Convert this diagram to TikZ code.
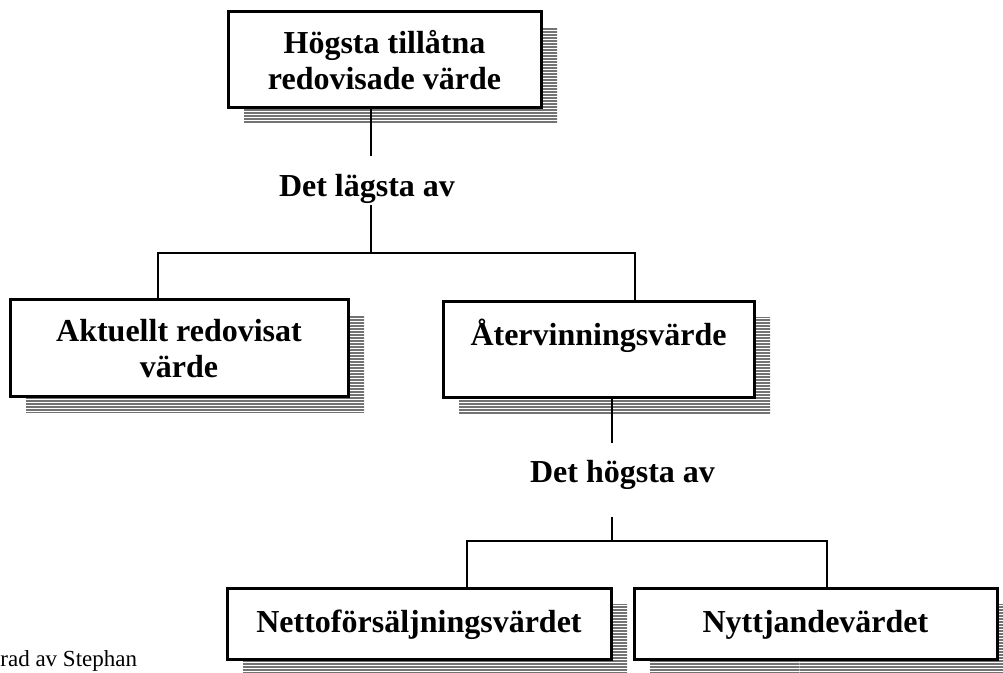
\documentclass[tikz,border=0pt]{standalone}
\usepackage{fontspec}
\setmainfont{Liberation Serif}
\usetikzlibrary{patterns,shadows,positioning}
\pgfdeclarepatternformonly{shadowlines}{\pgfpointorigin}{\pgfpoint{400pt}{1.6pt}}{\pgfpoint{400pt}{1.6pt}}{\pgfpathrectangle{\pgfpointorigin}{\pgfpoint{400pt}{1.2pt}}\pgfusepath{fill}}
\newcommand{\boxfont}{\bfseries\fontsize{16}{17.75}\selectfont}

\tikzset{
  box/.style={draw, line width=1.5pt, fill=white, inner sep=0pt, align=center,
    font=\boxfont,
    general shadow={shadow xshift=8pt, shadow yshift=-8pt, pattern=shadowlines, pattern color=black!55}},
  lbl/.style={inner sep=0pt, anchor=base, font=\boxfont},
  link/.style={line width=1pt}
}

\begin{document}
\begin{tikzpicture}[x=0.5pt,y=-0.5pt]
  \useasboundingbox (0,0) rectangle (1003,673);
  % boxes
  \node[box, minimum width=156.5pt, minimum height=48pt] (hogst) at (384.5,60) {Högsta tillåtna\\redovisade värde};
  \node[box, minimum width=169pt, minimum height=48.5pt] (aktuellt) at (179,348.5) {Aktuellt redovisat\\värde};
  \node[box, minimum width=155.5pt, minimum height=48pt] (aterv) at (598.5,350) {Återvinningsvärde\\\mbox{}};
  \node[box, minimum width=192pt, minimum height=35.5pt] (netto) at (419,624.5) {Nettoförsäljningsvärdet};
  \node[box, minimum width=181.5pt, minimum height=35.5pt] (nytt) at (815.5,624.5) {Nyttjandevärdet};

  % labels
  \node[lbl, text height=20.5pt, text depth=4pt] (lagsta) at (367,197) {Det lägsta av};
  \node[lbl, text height=20pt, text depth=17pt] (hogsta) at (622.5,483) {Det högsta av};
  \node[anchor=base west, inner sep=0pt, font=\fontsize{11.5}{13}\selectfont] (credit) at (0,667) {rad av Stephan};

  \coordinate (split1) at (371,253);
  \coordinate (split2) at (612,541);

  % connectors
  \draw[link] (hogst.south -| split1) -- (lagsta.north -| split1);
  \draw[link] (lagsta.south -| split1) -- (split1);
  \draw[link] (split1) -| ([xshift=-10.5pt]aktuellt.north);
  \draw[link] (split1) -| ([xshift=18.25pt]aterv.north);
  \draw[link] (aterv.south -| split2) -- (hogsta.north -| split2);
  \draw[link] (hogsta.south -| split2) -- (split2);
  \draw[link] (split2) -| ([xshift=24pt]netto.north);
  \draw[link] (split2) -| ([xshift=5.75pt]nytt.north);
\end{tikzpicture}
\end{document}
